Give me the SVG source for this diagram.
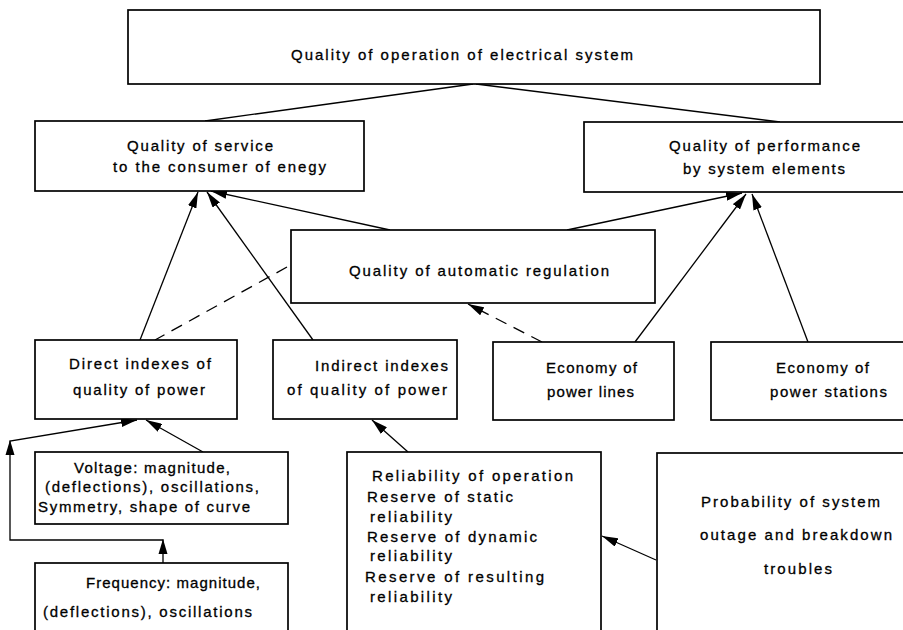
<svg xmlns="http://www.w3.org/2000/svg" width="903" height="630" viewBox="0 0 903 630">
<defs>
<style>
.box{fill:#fff;stroke:#000;stroke-width:1.7}
.t{font-family:"Liberation Sans",Arial,sans-serif;font-size:15px;fill:#000;stroke:#000;stroke-width:0.3}
.c{fill:none;stroke:#000;stroke-width:1.3}
.dash{stroke-dasharray:12,8}
.ah{fill:#000}
</style>
<marker id="arr" viewBox="0 0 16 9" refX="16" refY="4.5" markerWidth="16" markerHeight="9" markerUnits="userSpaceOnUse" orient="auto">
<path d="M0,0 L16,4.5 L0,9 Z" fill="#000"/>
</marker>
</defs>
<rect width="903" height="630" fill="#fff"/>

<g id="connectors">
<line class="c" x1="473" y1="84" x2="205" y2="121"/>
<line class="c" x1="476" y1="84" x2="780" y2="122"/>
<line class="c" x1="140" y1="340" x2="198" y2="192" marker-end="url(#arr)"/>
<line class="c" x1="313" y1="340" x2="207" y2="192" marker-end="url(#arr)"/>
<line class="c" x1="390" y1="230" x2="211" y2="191" marker-end="url(#arr)"/>
<line class="c" x1="567" y1="230" x2="742" y2="193" marker-end="url(#arr)"/>
<line class="c" x1="635" y1="342" x2="746" y2="194" marker-end="url(#arr)"/>
<line class="c" x1="808" y1="342" x2="752" y2="194" marker-end="url(#arr)"/>
<line class="c dash" x1="287" y1="267" x2="155" y2="340"/>
<line class="c dash" x1="542" y1="342" x2="468" y2="304" marker-end="url(#arr)"/>
<line class="c" x1="203" y1="452" x2="146" y2="420" marker-end="url(#arr)"/>
<path class="c" d="M163,563 V540 H10 V441 L137,420" marker-end="url(#arr)"/>
<path class="ah" d="M163,539 L158.5,554 L167.5,554 Z"/>
<path class="ah" d="M10,440 L5.5,455 L14.5,455 Z"/>
<line class="c" x1="408" y1="452" x2="372" y2="420" marker-end="url(#arr)"/>
<line class="c" x1="656" y1="560" x2="602" y2="536" marker-end="url(#arr)"/>
</g>

<g id="n-top">
<rect class="box" x="128" y="10" width="692" height="74"/>
<text class="t" x="291" y="60" textLength="342" lengthAdjust="spacing">Quality of operation of electrical system</text>
</g>

<g id="n-service">
<rect class="box" x="35" y="121" width="329" height="70"/>
<text class="t" x="127" y="151" textLength="146" lengthAdjust="spacing">Quality of service</text>
<text class="t" x="113" y="172" textLength="213" lengthAdjust="spacing">to the consumer of enegy</text>
</g>

<g id="n-performance">
<rect class="box" x="584" y="122" width="330" height="70"/>
<text class="t" x="669" y="151" textLength="191" lengthAdjust="spacing">Quality of performance</text>
<text class="t" x="683" y="174" textLength="162" lengthAdjust="spacing">by system elements</text>
</g>

<g id="n-regulation">
<rect class="box" x="291" y="230" width="364" height="73"/>
<text class="t" x="349" y="276" textLength="260" lengthAdjust="spacing">Quality of automatic regulation</text>
</g>

<g id="n-direct">
<rect class="box" x="35" y="340" width="202" height="79"/>
<text class="t" x="69" y="369" textLength="142" lengthAdjust="spacing">Direct indexes of</text>
<text class="t" x="73" y="395" textLength="132" lengthAdjust="spacing">quality of power</text>
</g>

<g id="n-indirect">
<rect class="box" x="273" y="340" width="184" height="79"/>
<text class="t" x="315" y="371" textLength="133" lengthAdjust="spacing">Indirect indexes</text>
<text class="t" x="287" y="395" textLength="160" lengthAdjust="spacing">of quality of power</text>
</g>

<g id="n-lines">
<rect class="box" x="493" y="342" width="181" height="78"/>
<text class="t" x="546" y="373" textLength="91" lengthAdjust="spacing">Economy of</text>
<text class="t" x="547" y="397" textLength="87" lengthAdjust="spacing">power lines</text>
</g>

<g id="n-stations">
<rect class="box" x="711" y="342" width="200" height="78"/>
<text class="t" x="776" y="373" textLength="93" lengthAdjust="spacing">Economy of</text>
<text class="t" x="770" y="397" textLength="117" lengthAdjust="spacing">power stations</text>
</g>

<g id="n-voltage">
<rect class="box" x="35" y="452" width="253" height="72"/>
<text class="t" x="74" y="473" textLength="156" lengthAdjust="spacing">Voltage: magnitude,</text>
<text class="t" x="45" y="492" textLength="214" lengthAdjust="spacing">(deflections), oscillations,</text>
<text class="t" x="38" y="512" textLength="212" lengthAdjust="spacing">Symmetry, shape of curve</text>
</g>

<g id="n-frequency">
<rect class="box" x="35" y="563" width="253" height="80"/>
<text class="t" x="86" y="588" textLength="174" lengthAdjust="spacing">Frequency: magnitude,</text>
<text class="t" x="43" y="617" textLength="209" lengthAdjust="spacing">(deflections), oscillations</text>
</g>

<g id="n-reliability">
<rect class="box" x="347" y="452" width="254" height="190"/>
<text class="t" x="372" y="481" textLength="201" lengthAdjust="spacing">Reliability of operation</text>
<text class="t" x="367" y="502" textLength="146" lengthAdjust="spacing">Reserve of static</text>
<text class="t" x="370" y="522" textLength="82" lengthAdjust="spacing">reliability</text>
<text class="t" x="367" y="542" textLength="170" lengthAdjust="spacing">Reserve of dynamic</text>
<text class="t" x="370" y="561" textLength="82" lengthAdjust="spacing">reliability</text>
<text class="t" x="365" y="582" textLength="179" lengthAdjust="spacing">Reserve of resulting</text>
<text class="t" x="370" y="602" textLength="82" lengthAdjust="spacing">reliability</text>
</g>

<g id="n-probability">
<rect class="box" x="657" y="453" width="260" height="190"/>
<text class="t" x="701" y="507" textLength="179" lengthAdjust="spacing">Probability of system</text>
<text class="t" x="700" y="540" textLength="192" lengthAdjust="spacing">outage and breakdown</text>
<text class="t" x="764" y="574" textLength="68" lengthAdjust="spacing">troubles</text>
</g>
</svg>
